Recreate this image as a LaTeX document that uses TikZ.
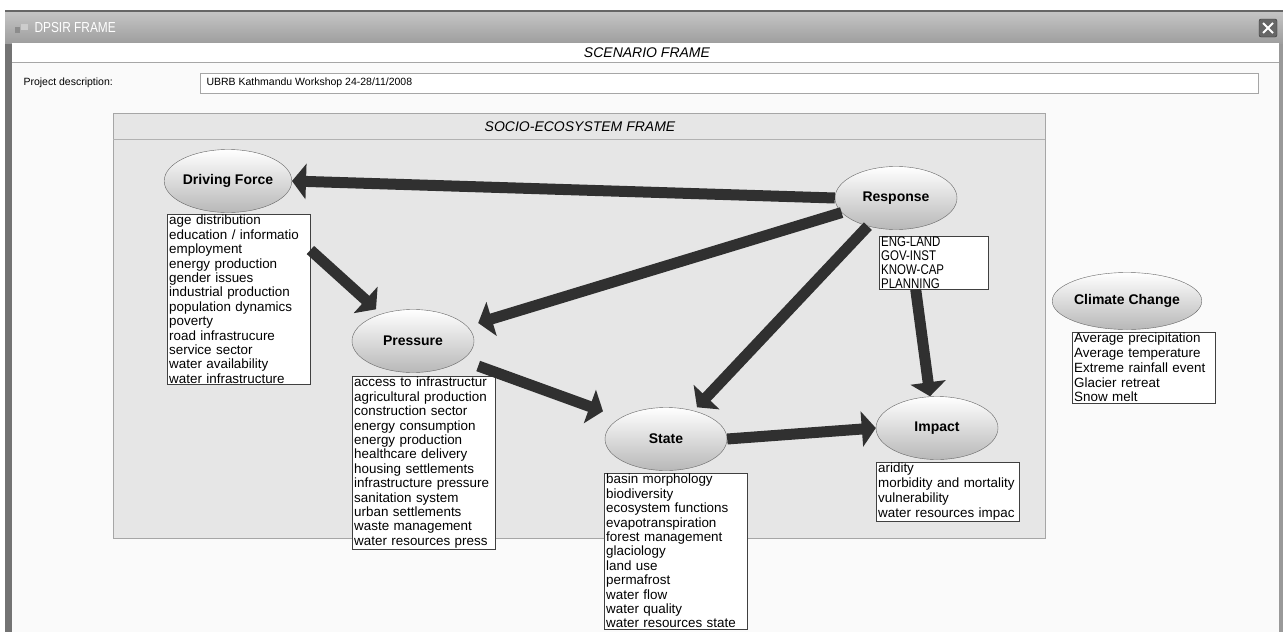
\documentclass[tikz,border=0pt]{standalone}
\usepackage{fontspec}
\setmainfont{Liberation Sans}
\newfontfamily\narrowfont[FakeStretch=0.82]{Liberation Sans}
\usetikzlibrary{shapes.geometric,arrows.meta}
\definecolor{panelgray}{HTML}{E6E6E6}
\definecolor{formgray}{HTML}{FAFAFA}
\definecolor{arrowgray}{HTML}{303030}
\tikzset{
  phase/.style={ellipse, draw=black!60, top color=white, bottom color=black!28,
    minimum width=122pt, minimum height=63pt, inner sep=0pt,
    font=\bfseries\fontsize{14}{16}\selectfont},
  varlist/.style={draw=black!75, fill=white, anchor=north west, align=left,
    text width=139pt, inner xsep=2pt, inner ysep=1pt,
    font=\fontsize{13.4}{14.4}\selectfont},
  flow/.style={draw=arrowgray, line width=11pt, -{Triangle[length=14pt,width=35pt]}},
  caption/.style={font=\itshape\fontsize{14}{16}\selectfont}
}
\begin{document}
\begin{tikzpicture}[x=1pt,y=-1pt]
\useasboundingbox (0,0) rectangle (1283,632);
\fill[white] (0,0) rectangle (1283,632);

\draw[black!50,fill=formgray] (5,10) rectangle (1283,645);
\fill[black!55] (5,10) rectangle (12,645);
\fill[black!40] (1279,10) rectangle (1283,645);
\shade[top color=black!22,bottom color=black!38] (5,10) rectangle (1283,43);
\draw[black!60,line width=2pt] (5,11) -- (1283,11);
\fill[white] (12,43) rectangle (1279,62);
\draw[black!35] (12,62) -- (1279,62);

\fill[black!45] (15,27) rectangle (20,33);
\fill[black!20] (21,24) rectangle (28,30);
\node[anchor=west,text=white,font=\narrowfont\fontsize{14.5}{16}\selectfont] (title) at (31,28) {DPSIR FRAME};
\draw[black!80,fill=black!60,rounded corners=2pt] (1259,19) rectangle (1277,37);
\draw[white,line width=1.8pt] (1263,23) -- (1273,33) (1263,33) -- (1273,23);

\node[caption] (scen) at (647,53) {SCENARIO FRAME};
\node[anchor=west,font=\fontsize{10.5}{12}\selectfont] (projlabel) at (20,83) {Project description:};
\draw[black!35,fill=white] (200,73) rectangle (1258,93);
\node[anchor=west,font=\fontsize{10.5}{12}\selectfont] (projtext) at (203,83) {UBRB Kathmandu Workshop 24-28/11/2008};

\draw[black!35,fill=panelgray] (113,113) rectangle (1045,538);
\draw[black!30] (113,139) -- (1045,139);
\node[caption] (socio) at (580,127) {SOCIO-ECOSYSTEM FRAME};

\node[phase] (drive) at (228,181) {Driving Force};
\node[phase] (press) at (413,341) {Pressure};
\node[phase] (state) at (666,439) {State};
\node[phase] (resp) at (896,198) {Response};
\node[phase] (impact) at (937,428) {Impact};
\node[phase,minimum width=109pt,minimum height=57pt] (climate) at (1127,301) {Climate Change};

\node[varlist] (drivelist) at (167,214) {age distribution\\education / informatio\\employment\\energy production\\gender issues\\industrial production\\population dynamics\\poverty\\road infrastrucure\\service sector\\water availability\\water infrastructure};
\node[varlist] (presslist) at (352,376) {access to infrastructur\\agricultural production\\construction sector\\energy consumption\\energy production\\healthcare delivery\\housing settlements\\infrastructure pressure\\sanitation system\\urban settlements\\waste management\\water resources press};
\node[varlist] (statelist) at (604,473) {basin morphology\\biodiversity\\ecosystem functions\\evapotranspiration\\forest management\\glaciology\\land use\\permafrost\\water flow\\water quality\\water resources state};
\node[varlist,text width=105pt,font=\narrowfont\fontsize{14}{13.7}\selectfont] (resplist) at (879,236) {ENG-LAND\\GOV-INST\\KNOW-CAP\\PLANNING};
\node[varlist,font=\fontsize{13.4}{14.7}\selectfont] (impactlist) at (876,462) {aridity\\morbidity and mortality\\vulnerability\\water resources impac};
\node[varlist,font=\fontsize{13.4}{14.7}\selectfont] (climatelist) at (1072,332) {Average precipitation\\Average temperature\\Extreme rainfall event\\Glacier retreat\\Snow melt};

\draw[flow] (resp.west) -- (drive.east);
\draw[flow] ([yshift=-36pt]drivelist.north east) -- ([xshift=-37pt]press.north);
\draw[flow] (resp.195) -- ([shift={(4pt,18pt)}]press.east);
\draw[flow] (resp.225) -- ([xshift=31pt]state.north);
\draw[flow] ([shift={(4pt,-25pt)}]press.east) -- ([shift={(-63pt,-4pt)}]state.north);
\draw[flow] (state.east) -- (impact.west);
\draw[flow] ([xshift=-18pt]resplist.south) -- ([xshift=-7pt]impact.north);
\end{tikzpicture}
\end{document}
